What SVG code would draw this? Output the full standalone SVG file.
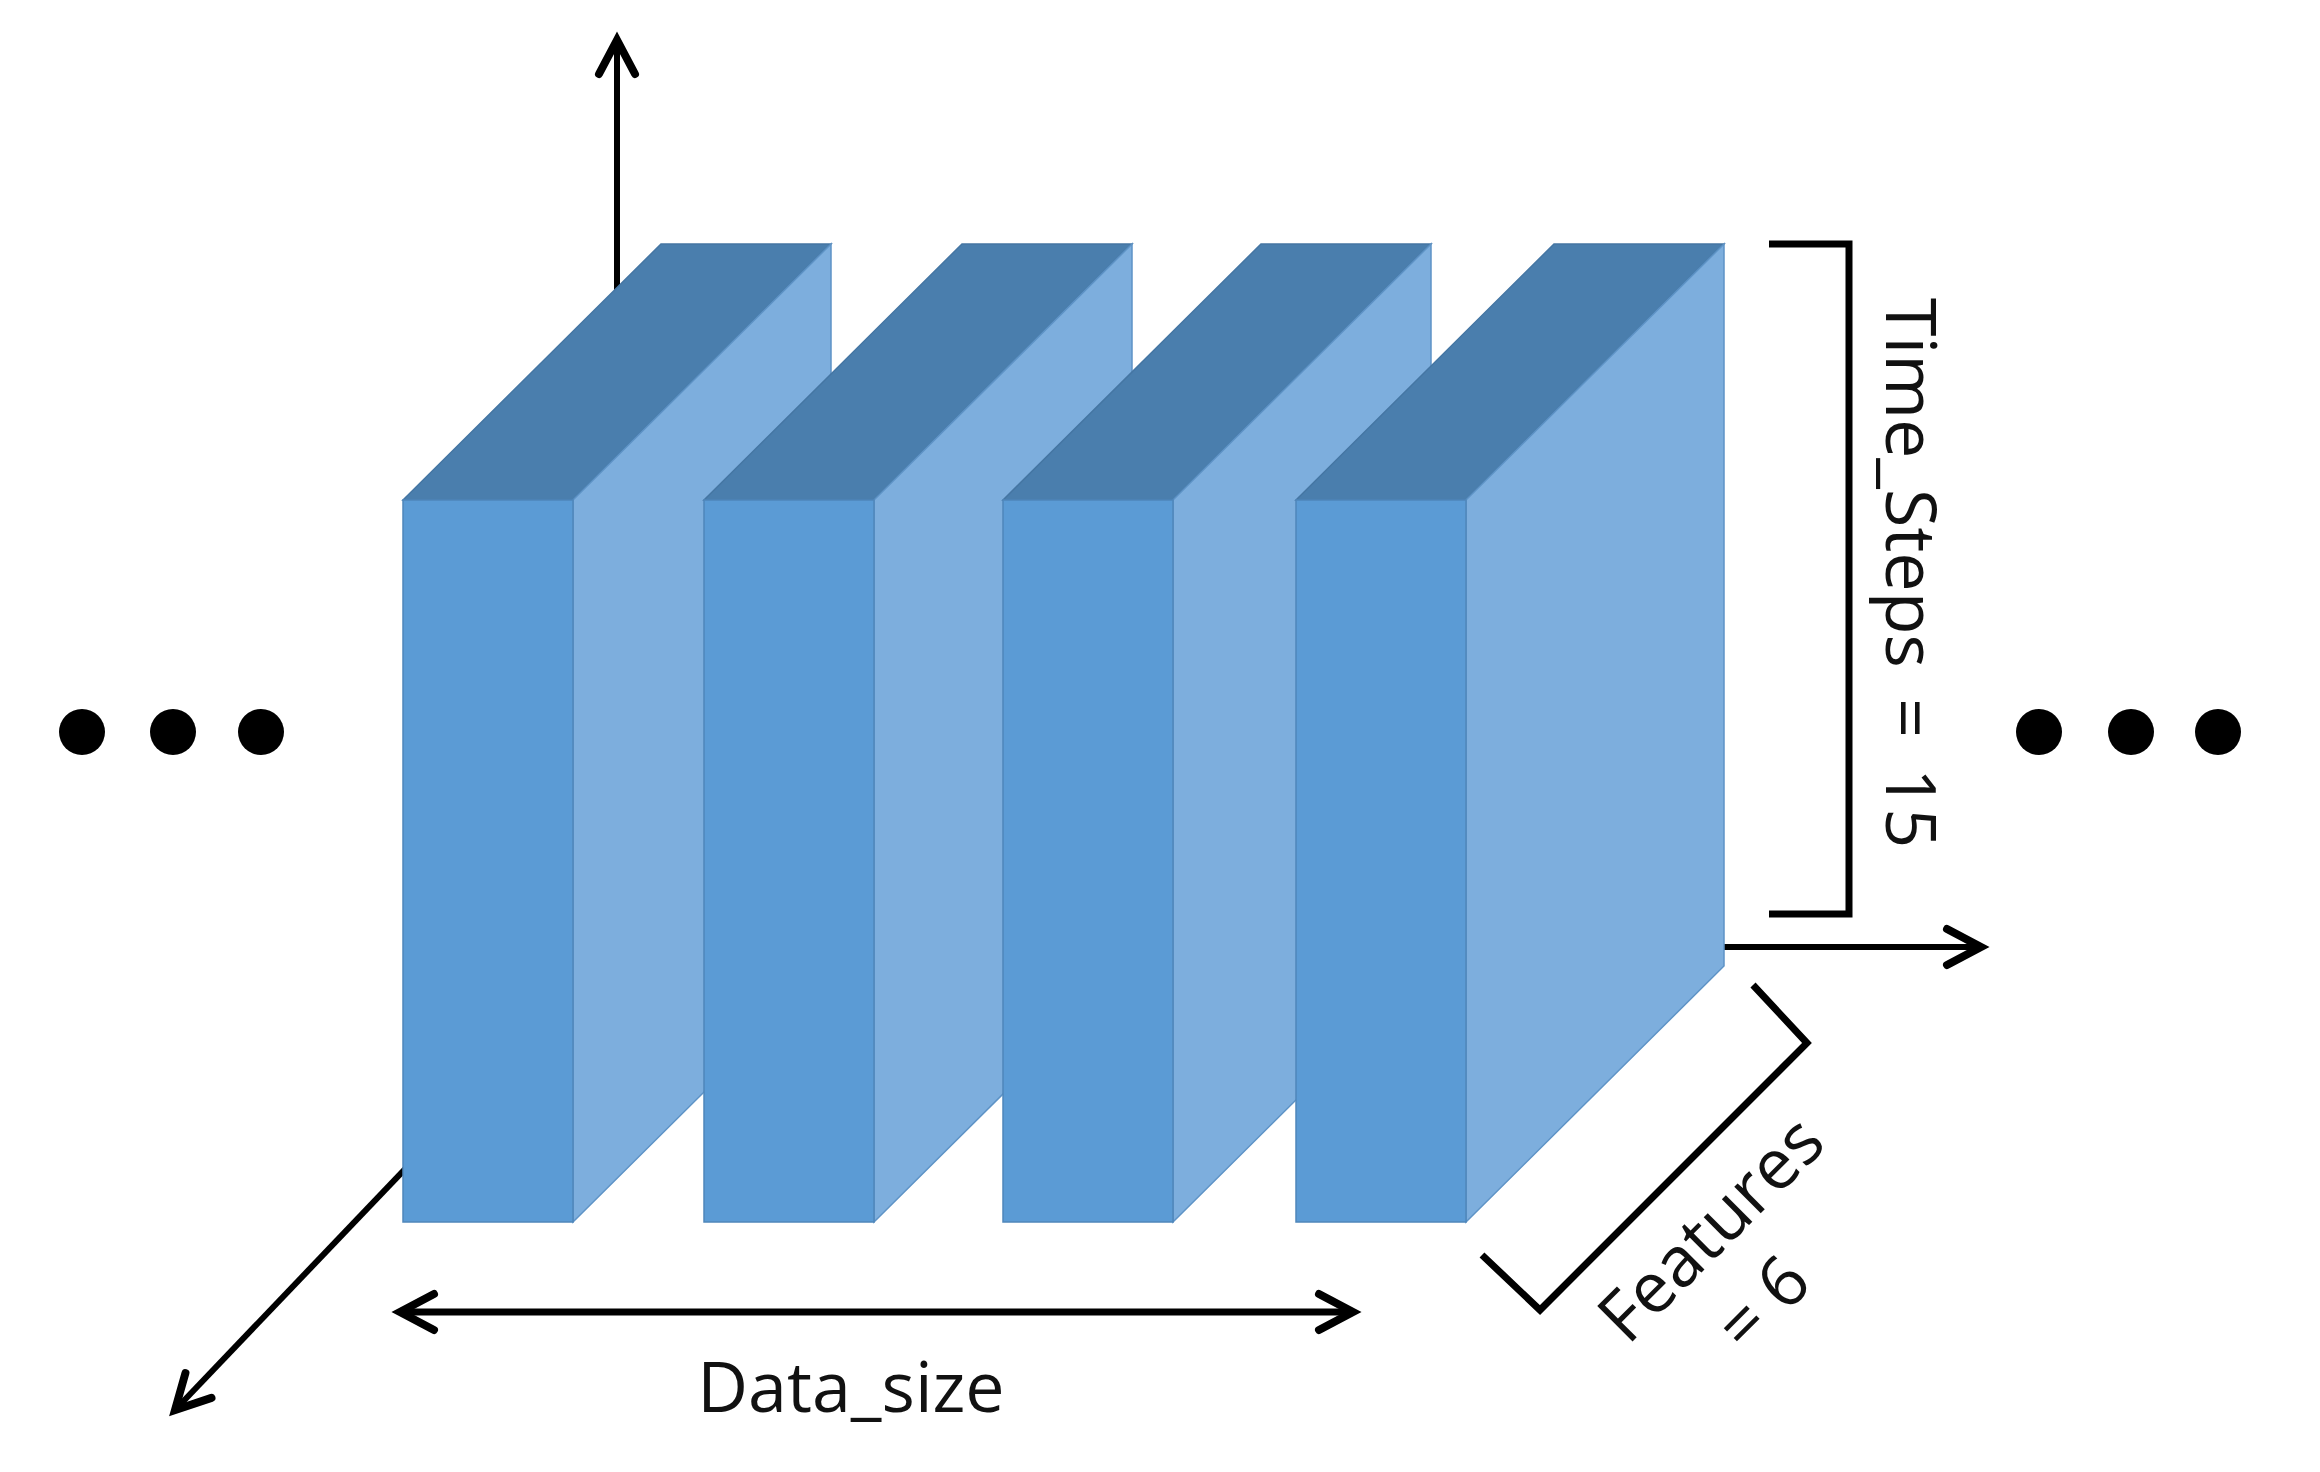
<svg xmlns="http://www.w3.org/2000/svg" width="2320" height="1472" viewBox="0 0 2320 1472">
<style>
.ax{stroke:#000;stroke-width:6;fill:none}
.dim{stroke:#000;stroke-width:7;fill:none;stroke-linejoin:miter}
.front{fill:#5B9BD5;stroke:#4F87BA;stroke-width:1.5}
.side{fill:#7DAEDD;stroke:#5E93C6;stroke-width:1.5}
.top{fill:#4A7EAD;stroke:#4576A3;stroke-width:1.5}
.lbl{font-family:"Open Sans","Noto Sans","DejaVu Sans",sans-serif;font-size:70px;fill:#111}
.dot{fill:#000}
</style>
<defs>
<marker id="ah" markerUnits="userSpaceOnUse" orient="auto-start-reverse" refX="0" refY="0" markerWidth="60" markerHeight="60" overflow="visible">
<path d="M-34,-18 L0,0 L-34,18" fill="none" stroke="#000" stroke-width="8" stroke-linecap="round" stroke-linejoin="miter"/>
</marker>
</defs>
<rect width="2320" height="1472" fill="#fff"/>
<g id="connectors">
<line class="ax" x1="617" y1="947" x2="617" y2="40" marker-end="url(#ah)"/>
<line class="ax" x1="617" y1="947" x2="1981" y2="947" marker-end="url(#ah)"/>
<line class="ax" x1="617" y1="947" x2="175" y2="1410" marker-end="url(#ah)"/>
</g>
<g id="box1">
<polygon class="top" points="403,500 661,244 831,244 573,500"/>
<polygon class="side" points="573,500 831,244 831,966 573,1222"/>
<rect class="front" x="403" y="500" width="170" height="722"/>
</g>
<g id="box2">
<polygon class="top" points="704,500 962,244 1132,244 874,500"/>
<polygon class="side" points="874,500 1132,244 1132,966 874,1222"/>
<rect class="front" x="704" y="500" width="170" height="722"/>
</g>
<g id="box3">
<polygon class="top" points="1003,500 1261,244 1431,244 1173,500"/>
<polygon class="side" points="1173,500 1431,244 1431,966 1173,1222"/>
<rect class="front" x="1003" y="500" width="170" height="722"/>
</g>
<g id="box4">
<polygon class="top" points="1296,500 1554,244 1724,244 1466,500"/>
<polygon class="side" points="1466,500 1724,244 1724,966 1466,1222"/>
<rect class="front" x="1296" y="500" width="170" height="722"/>
</g>
<g id="data_size">
<line class="dim" x1="400" y1="1312" x2="1353" y2="1312" marker-start="url(#ah)" marker-end="url(#ah)"/>
<text class="lbl" x="851" y="1412" text-anchor="middle">Data_size</text>
</g>
<g id="time_steps">
<polyline class="dim" points="1769,244 1849,244 1849,914 1769,914"/>
<text class="lbl" transform="translate(1886,298) rotate(90)" word-spacing="12">Time_Steps = 15</text>
</g>
<g id="features">
<polyline class="dim" points="1482,1255 1540,1310 1807,1043 1753,985"/>
<g transform="translate(1728,1246) rotate(-45)">
<text class="lbl" x="0" y="0" text-anchor="middle">Features</text>
<text class="lbl" x="-16" y="89" text-anchor="middle">= 6</text>
</g>
</g>
<g id="dots_left">
<circle class="dot" cx="82" cy="732" r="23"/>
<circle class="dot" cx="173" cy="732" r="23"/>
<circle class="dot" cx="261" cy="732" r="23"/>
</g>
<g id="dots_right">
<circle class="dot" cx="2039" cy="732" r="23"/>
<circle class="dot" cx="2131" cy="732" r="23"/>
<circle class="dot" cx="2218" cy="732" r="23"/>
</g>
</svg>
